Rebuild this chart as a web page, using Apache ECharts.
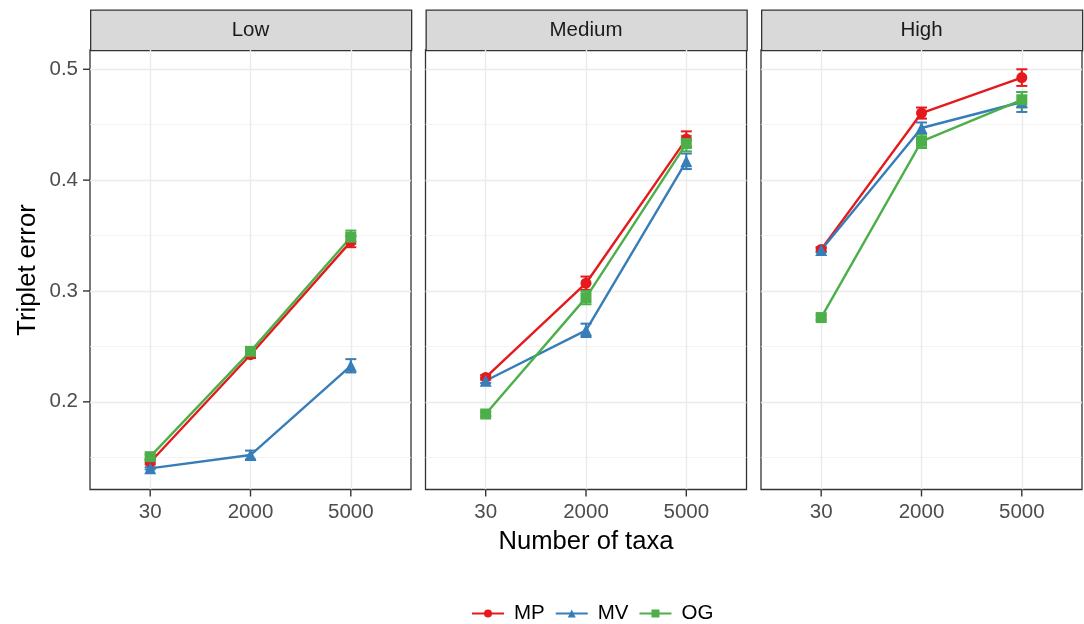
<!DOCTYPE html>
<html>
<head>
<meta charset="utf-8">
<script src="https://cdn.jsdelivr.net/npm/echarts@6/dist/echarts.min.js"></script>
<style>
html,body{margin:0;padding:0;background:#fff;}
#chart{width:1084px;height:624px;}
</style>
</head>
<body>
<div id="chart"></div>
<script>
// ---- data ----
const levels = ['Low', 'Medium', 'High'];
const taxa = ['30', '2000', '5000'];
const methods = ['MP', 'MV', 'OG'];
const yTicks = [0.2, 0.3, 0.4, 0.5];
const yMinorTicks = [0.15, 0.25, 0.35, 0.45];
// mean triplet error per level (Low, Medium, High) x taxa (30, 2000, 5000)
const mpMean = [[0.1455, 0.2425, 0.3445], [0.222, 0.307, 0.437], [0.3375, 0.4605, 0.4925]];
const mvMean = [[0.140, 0.152, 0.2325], [0.219, 0.2645, 0.417], [0.337, 0.447, 0.4705]];
const ogMean = [[0.1505, 0.2455, 0.3485], [0.189, 0.294, 0.433], [0.276, 0.435, 0.4725]];
// standard error half-widths
const mpErr = [[0.002, 0.003, 0.005], [0.002, 0.006, 0.007], [0.002, 0.005, 0.0075]];
const mvErr = [[0.001, 0.004, 0.006], [0.002, 0.006, 0.007], [0.002, 0.005, 0.009]];
const ogErr = [[0.002, 0.004, 0.006], [0.002, 0.006, 0.007], [0.002, 0.006, 0.007]];

const means = [mpMean, mvMean, ogMean];
const errs = [mpErr, mvErr, ogErr];
const colors = ['#E41A1C', '#377EB8', '#4DAF4A'];
const symbols = ['circle', 'triangle', 'rect'];
const symbolSizes = [11, 12, 11];

const FONT = 'Liberation Sans, Arial, sans-serif';
const panelLeft = [90, 425.5, 761];
const panelW = 321;
const panelTop = 50;
const panelH = 439.5;
const xMin = 0.4, xMax = 3.6;
const yMin = 0.1209, yMax = 0.5174;
const TICK_LEN = 7;

const chart = echarts.init(document.getElementById('chart'), null, {renderer: 'canvas'});

const grids = [], xAxes = [], yAxes = [], series = [], graphics = [];

function errRender(params, api) {
  const x = api.value(0), lo = api.value(1), hi = api.value(2);
  const pLo = api.coord([x, lo]), pHi = api.coord([x, hi]);
  const hw = 5.5;
  const style = {stroke: api.visual('color'), lineWidth: 2, fill: null};
  return {type: 'group', children: [
    {type: 'line', shape: {x1: pLo[0], y1: pLo[1], x2: pHi[0], y2: pHi[1]}, style: style},
    {type: 'line', shape: {x1: pLo[0] - hw, y1: pLo[1], x2: pLo[0] + hw, y2: pLo[1]}, style: style},
    {type: 'line', shape: {x1: pHi[0] - hw, y1: pHi[1], x2: pHi[0] + hw, y2: pHi[1]}, style: style}
  ]};
}

// x axis ticks, outside the bottom of the panel
function xTickRender(params, api) {
  const p = api.coord([api.value(0), yMin]);
  return {type: 'rect', shape: {x: p[0] - 0.7, y: p[1], width: 1.4, height: TICK_LEN},
    style: {fill: '#333333'}};
}
// y axis ticks, outside the left of the panel
function yTickRender(params, api) {
  const p = api.coord([xMin, api.value(1)]);
  return {type: 'rect', shape: {x: p[0] - TICK_LEN, y: p[1] - 0.7, width: TICK_LEN, height: 1.4},
    style: {fill: '#333333'}};
}

levels.forEach(function (lvl, g) {
  grids.push({
    left: panelLeft[g], top: panelTop, width: panelW, height: panelH,
    show: true, borderColor: '#333333', borderWidth: 1.3, backgroundColor: '#ffffff',
    containLabel: false
  });
  xAxes.push({
    type: 'value', gridIndex: g, min: xMin, max: xMax, position: 'bottom',
    axisLine: {show: false},
    axisTick: {show: false, customValues: [1, 2, 3]},
    axisLabel: {show: true, customValues: [1, 2, 3], fontFamily: FONT, fontSize: 20.5, color: '#4D4D4D', margin: 12,
      formatter: function (v) { return taxa[Math.round(v) - 1]; }},
    splitLine: {show: true, lineStyle: {color: '#EBEBEB', width: 1.4}}
  });
  yAxes.push({
    type: 'value', gridIndex: g, min: yMin, max: yMax, position: 'left',
    axisLine: {show: false},
    axisTick: {show: false, customValues: yTicks},
    axisLabel: {show: g === 0, customValues: yTicks, fontFamily: FONT, fontSize: 20.5, color: '#4D4D4D', margin: 12,
      formatter: function (v) { return v.toFixed(1); }},
    splitLine: {show: true, lineStyle: {color: '#EBEBEB', width: 1.4}}
  });
  yAxes.push({
    type: 'value', gridIndex: g, min: yMin, max: yMax, position: 'left',
    axisLine: {show: false},
    axisTick: {show: false, customValues: yMinorTicks},
    axisLabel: {show: false, customValues: yMinorTicks},
    splitLine: {show: true, lineStyle: {color: '#F0F0F0', width: 0.8}}
  });

  methods.forEach(function (m, k) {
    const mean = means[k][g], err = errs[k][g];
    series.push({
      type: 'custom', name: m + ' se', xAxisIndex: g, yAxisIndex: 2 * g,
      renderItem: errRender,
      itemStyle: {color: colors[k]},
      encode: {x: 0, y: [1, 2]},
      data: taxa.map(function (t, i) { return [i + 1, mean[i] - err[i], mean[i] + err[i]]; }),
      z: 3, silent: true
    });
    series.push({
      type: 'line', name: m, xAxisIndex: g, yAxisIndex: 2 * g,
      data: taxa.map(function (t, i) { return [i + 1, mean[i]]; }),
      symbol: symbols[k], symbolSize: symbolSizes[k], showSymbol: true,
      lineStyle: {color: colors[k], width: 2.4},
      itemStyle: {color: colors[k], borderWidth: 0},
      emphasis: {disabled: true},
      animation: false, z: 3
    });
  });

  // ticks (drawn last, on their own layer)
  series.push({
    type: 'custom', name: 'xticks', xAxisIndex: g, yAxisIndex: 2 * g,
    renderItem: xTickRender, clip: false, silent: true,
    data: taxa.map(function (t, i) { return [i + 1, yMin]; }), z: 10, zlevel: 1
  });
  if (g === 0) {
    series.push({
      type: 'custom', name: 'yticks', xAxisIndex: g, yAxisIndex: 2 * g,
      renderItem: yTickRender, clip: false, silent: true,
      data: yTicks.map(function (v) { return [xMin, v]; }), z: 10, zlevel: 1
    });
  }

  // facet strip
  graphics.push({
    type: 'rect', left: panelLeft[g], top: 9.5,
    shape: {x: 0, y: 0, width: panelW, height: 40.5},
    style: {fill: '#D9D9D9', stroke: '#333333', lineWidth: 1.3}
  });
  graphics.push({
    type: 'text', x: panelLeft[g] + panelW / 2, y: 30.5,
    style: {text: lvl, fontFamily: FONT, fontSize: 20.5, fill: '#1A1A1A', textAlign: 'center', textVerticalAlign: 'middle'}
  });
});

graphics.push({
  type: 'text', x: 586, y: 542,
  style: {text: 'Number of taxa', fontFamily: FONT, fontSize: 25.6, fill: '#000000', textAlign: 'center', textVerticalAlign: 'middle'}
});
graphics.push({
  type: 'text', x: 28, y: 270, rotation: Math.PI / 2,
  style: {text: 'Triplet error', fontFamily: FONT, fontSize: 25.6, fill: '#000000', textAlign: 'center', textVerticalAlign: 'middle'}
});

chart.setOption({
  animation: false,
  backgroundColor: '#ffffff',
  grid: grids,
  xAxis: xAxes,
  yAxis: yAxes,
  legend: {
    data: methods, left: 466, top: 598, orient: 'horizontal',
    itemWidth: 32, itemHeight: 10, itemGap: 10,
    textStyle: {fontFamily: FONT, fontSize: 20.5, color: '#000000', padding: [0, 0, 0, 5]},
    selectedMode: false
  },
  graphic: graphics,
  series: series
});
</script>
</body>
</html>
